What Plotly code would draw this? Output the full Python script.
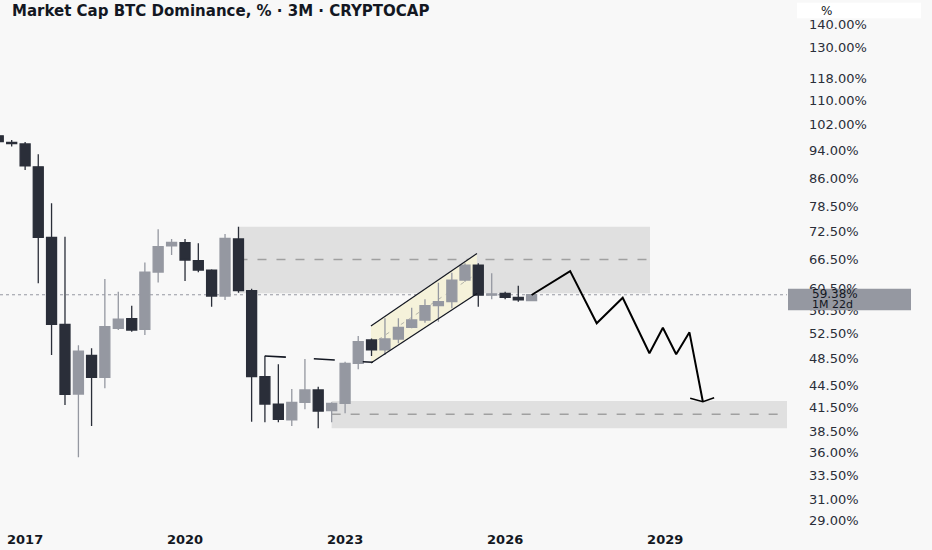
import math
import plotly.graph_objects as go

# ---------------- candles (3M) ----------------
quarters = ["2016-07-01", "2016-10-01", "2017-01-01", "2017-04-01", "2017-07-01", "2017-10-01",
            "2018-01-01", "2018-04-01", "2018-07-01", "2018-10-01", "2019-01-01", "2019-04-01",
            "2019-07-01", "2019-10-01", "2020-01-01", "2020-04-01", "2020-07-01", "2020-10-01",
            "2021-01-01", "2021-04-01", "2021-07-01", "2021-10-01", "2022-01-01", "2022-04-01",
            "2022-07-01", "2022-10-01", "2023-01-01", "2023-04-01", "2023-07-01", "2023-10-01",
            "2024-01-01", "2024-04-01", "2024-07-01", "2024-10-01", "2025-01-01", "2025-04-01",
            "2025-07-01", "2025-10-01", "2026-01-01", "2026-04-01", "2026-07-01"]
opens = [98.3, 96.3, 95.8, 89.1, 71.25, 54.06,
         43.35, 49.0, 45.71, 53.38, 55.04, 53.21,
         63.82, 69.37, 70.04, 66.15, 64.22, 59.15,
         70.87, 60.15, 45.8, 41.99, 39.92, 42.22,
         43.9, 41.11, 42.09, 47.78, 51.45, 49.85,
         51.61, 53.55, 54.81, 57.36, 58.09, 62.22,
         65.25, 59.3, 59.65, 58.9, 58.27]
highs = [98.8, 97.0, 96.4, 92.7, 79.35, 71.4,
         50.6, 50.1, 62.42, 59.96, 57.36, 65.77,
         73.08, 70.87, 70.87, 69.9, 64.37, 72.0,
         73.69, 60.53, 48.94, 47.63, 44.04, 48.43,
         44.36, 42.22, 48.02, 52.09, 51.67, 55.11,
         55.11, 57.0, 58.53, 61.7, 63.68, 65.61,
         65.61, 63.56, 59.96, 61.11, 59.4]
lows = [96.2, 95.0, 88.2, 61.6, 49.05, 41.86,
        35.46, 39.16, 44.13, 53.09, 52.81, 52.26,
        61.74, 67.36, 62.03, 63.76, 57.18, 58.4,
        59.77, 39.7, 39.62, 39.62, 39.16, 41.29,
        38.88, 39.62, 40.78, 46.88, 48.91, 49.05,
        50.91, 53.38, 54.34, 54.52, 56.89, 61.89,
        57.18, 58.53, 58.53, 58.09, 58.27]
closes = [96.5, 95.9, 89.4, 71.25, 54.06, 43.3,
          49.67, 45.71, 53.65, 54.98, 53.09, 63.82,
          69.15, 70.13, 66.3, 64.22, 59.15, 71.03,
          60.15, 45.8, 41.99, 40.0, 42.22, 43.9,
          41.07, 42.09, 47.78, 51.17, 49.85, 51.61,
          53.55, 54.81, 57.36, 58.09, 62.22, 65.25,
          59.34, 59.55, 58.9, 58.45, 59.38]

# ---------------- axes ----------------
y_tick_values = [140, 130, 118, 110, 102, 94, 86, 78.5, 72.5, 66.5, 60.5, 56.5,
                 52.5, 48.5, 44.5, 41.5, 38.5, 36, 33.5, 31, 29]
y_tick_labels = [f"{v:.2f}%" for v in y_tick_values]
x_tick_values = ["2017-01-01", "2020-01-01", "2023-01-01", "2026-01-01", "2029-01-01"]
x_tick_labels = ["2017", "2020", "2023", "2026", "2029"]
x_view = ["2016-07-13", "2031-04-15"]
y_view = [28.16, 151.24]

# ---------------- drawings ----------------
supply_zone_x = ["2021-01-01", "2028-09-19"]
supply_zone_y = [59.65, 73.7]
supply_zone_mid = 66.4
demand_zone_x = ["2022-10-01", "2031-04-15"]
demand_zone_y = [38.88, 42.39]
demand_zone_mid = 40.65
channel_x = ["2023-06-27", "2025-06-22"]
channel_upper = [53.77, 67.68]
channel_lower = [47.82, 59.62]
channel_mid = [50.70, 63.52]
neckline_x = ["2021-07-01", "2023-07-10"]
neckline_y = [48.91, 47.93]
path_x = ["2026-07-01", "2027-03-22", "2027-09-20", "2028-03-16", "2028-09-15",
          "2028-12-16", "2029-03-17", "2029-06-16", "2029-09-16"]
path_y = [59.34, 64.02, 54.24, 58.82, 49.32, 53.49, 49.17, 52.71, 42.30]
arrow_x = ["2029-06-21", "2029-09-16", "2029-12-02"]
arrow_y = [42.76, 42.30, 42.84]
countdown = "1M 22d"

BG = "#f8f8f8"
DARK = "#2a2e39"
GREY = "#9598a1"
ZONE = "#e0e0e0"
TXT = "#131722"
FONT = "DejaVu Sans"

fig = go.Figure()

fig.add_trace(go.Candlestick(
    x=quarters, open=opens, high=highs, low=lows, close=closes,
    increasing=dict(line=dict(color=GREY, width=1.3), fillcolor=GREY),
    decreasing=dict(line=dict(color=DARK, width=1.3), fillcolor=DARK),
    whiskerwidth=0, hoverinfo="skip", showlegend=False))

# channel borders and hand-drawn lines (above candles)
for ys in (channel_upper, channel_lower):
    fig.add_trace(go.Scatter(x=channel_x, y=ys, mode="lines",
                             line=dict(color=TXT, width=1.2),
                             hoverinfo="skip", showlegend=False))
fig.add_trace(go.Scatter(x=neckline_x, y=neckline_y, mode="lines",
                         line=dict(color=TXT, width=1.6, dash="21px,28px"),
                         hoverinfo="skip", showlegend=False))
fig.add_trace(go.Scatter(x=path_x, y=path_y, mode="lines",
                         line=dict(color="#000000", width=2),
                         hoverinfo="skip", showlegend=False))
fig.add_trace(go.Scatter(x=arrow_x, y=arrow_y, mode="lines",
                         line=dict(color="#000000", width=1.5),
                         hoverinfo="skip", showlegend=False))

last = closes[-1]
px_per_decade = 530 / (math.log10(y_view[1]) - math.log10(y_view[0]))

shapes = []
# zones (below candles)
for xs, ys, mid in ((supply_zone_x, supply_zone_y, supply_zone_mid),
                    (demand_zone_x, demand_zone_y, demand_zone_mid)):
    shapes.append(dict(type="rect", xref="x", yref="y", x0=xs[0], x1=xs[1],
                       y0=ys[0], y1=ys[1], fillcolor=ZONE, line=dict(width=0),
                       layer="below"))
    shapes.append(dict(type="line", xref="x", yref="y", x0=xs[0], x1=xs[1],
                       y0=mid, y1=mid, line=dict(color="#a0a0a0", width=1.5,
                                                 dash="9px,10px"), layer="below"))
# channel fill + dashed median (below candles)
channel_path = (f"M{channel_x[0]},{channel_upper[0]} L{channel_x[1]},{channel_upper[1]} "
                f"L{channel_x[1]},{channel_lower[1]} L{channel_x[0]},{channel_lower[0]} Z")
shapes.append(dict(type="path", xref="x", yref="y", path=channel_path,
                   fillcolor="#f5f2da", line=dict(width=0), layer="below"))
shapes.append(dict(type="line", xref="x", yref="y", x0=channel_x[0], x1=channel_x[1],
                   y0=channel_mid[0], y1=channel_mid[1],
                   line=dict(color="#b4b4aa", width=1, dash="4px,5px"), layer="below"))
# last price line
shapes.append(dict(type="line", xref="paper", yref="y", x0=0, x1=1, y0=last, y1=last,
                   line=dict(color=GREY, width=1, dash="dot"), layer="below"))
# last price label box
shapes.append(dict(type="rect", xref="paper", yref="y", x0=788 / 787, x1=911 / 787,
                   y0=last / 10 ** (15.5 / px_per_decade), y1=last * 10 ** (6.0 / px_per_decade),
                   fillcolor="#9598a1", line=dict(width=0), layer="above"))
# unit box top right
shapes.append(dict(type="rect", xref="paper", yref="paper", x0=797 / 787, x1=921 / 787,
                   y0=1 - 18.3 / 530, y1=1 - 2.7 / 530,
                   fillcolor="#ffffff", line=dict(width=0), layer="above"))

fig.update_layout(
    width=932, height=550,
    margin=dict(l=0, r=145, t=0, b=20),
    paper_bgcolor=BG, plot_bgcolor=BG,
    boxgap=0.24, boxgroupgap=0,
    font=dict(family=FONT, color=TXT, size=13),
    title=dict(text="<b>Market Cap BTC Dominance, % · 3M · CRYPTOCAP</b>",
               x=12 / 932, xanchor="left", y=1 - 11 / 550, yanchor="middle",
               font=dict(family=FONT, size=15, color=TXT)),
    xaxis=dict(type="date", range=x_view, showgrid=False, zeroline=False,
               rangeslider=dict(visible=False), tickmode="array",
               tickvals=x_tick_values, ticktext=x_tick_labels, ticks="",
               tickfont=dict(family=FONT, size=13, color=TXT, weight="bold"),
               showline=False, fixedrange=True),
    yaxis=dict(type="log", side="right",
               range=[math.log10(y_view[0]), math.log10(y_view[1])],
               autorange=False, showgrid=False, zeroline=False,
               tickmode="array", tickvals=y_tick_values, ticktext=y_tick_labels,
               ticks="", ticklabelstandoff=21,
               tickfont=dict(family=FONT, size=13, color="#2a2e39"),
               showline=False, fixedrange=True),
    shapes=shapes,
    annotations=[
        dict(text=f"{last:.2f}%", xref="paper", yref="y", x=810 / 787,
             y=math.log10(last), yshift=1, xanchor="left", yanchor="middle",
             showarrow=False, font=dict(family=FONT, size=12, color=TXT)),
        dict(text=countdown, xref="paper", yref="y", x=810 / 787,
             y=math.log10(last), yshift=-9.5, xanchor="left", yanchor="middle",
             showarrow=False, font=dict(family=FONT, size=11, color=TXT)),
        dict(text="%", xref="paper", yref="paper", x=826.7 / 787, y=1 - 11 / 530,
             xanchor="center", yanchor="middle", showarrow=False,
             font=dict(family=FONT, size=12, color=TXT)),
    ],
)

fig.write_html("out.html", config={"displayModeBar": False},
               post_script="document.body.style.margin='0';document.body.style.overflow='hidden';")
